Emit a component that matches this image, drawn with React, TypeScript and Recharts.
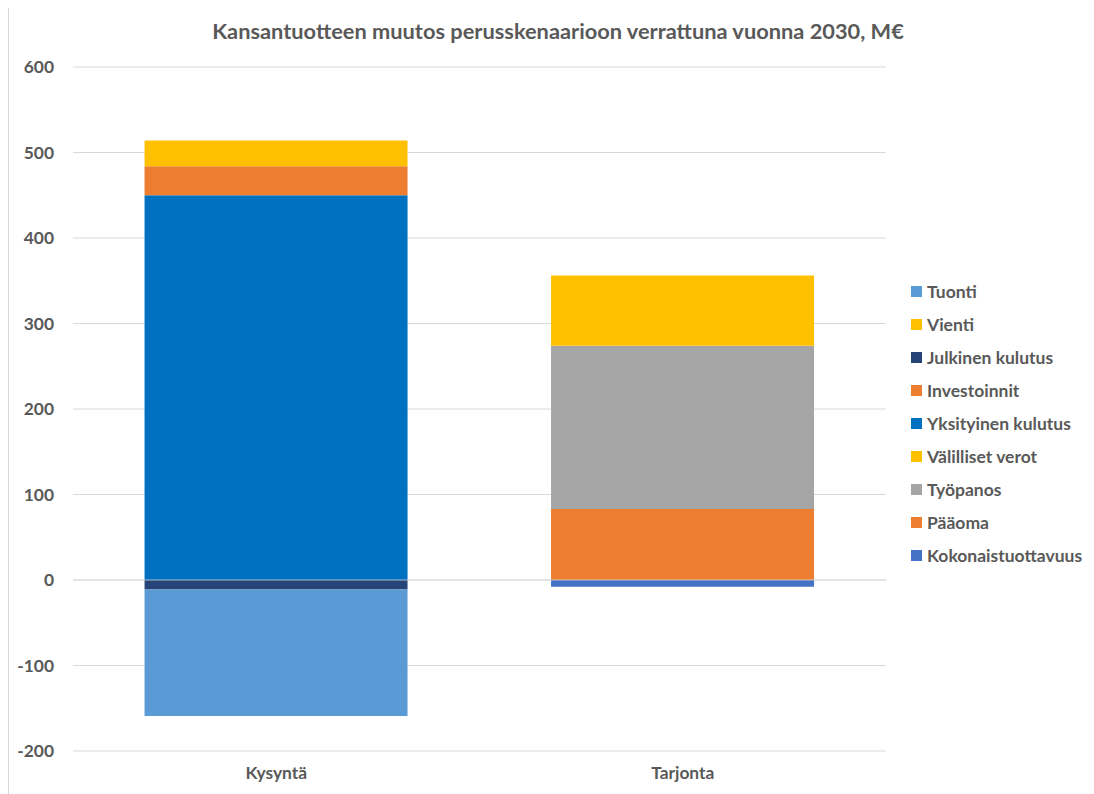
import React from 'react'
import { BarChart, Bar, XAxis, YAxis, CartesianGrid, Legend, ReferenceLine } from 'recharts'

// Kategoriat ja sarjat (M€), luettu kuvasta
const categories = ['Kysyntä', 'Tarjonta']
const kokonaistuottavuus = [null, -8]
const paaoma = [null, 83]
const tyopanos = [null, 191]
const valillisetVerot = [null, 82]
const yksityinenKulutus = [450, null]
const investoinnit = [34, null]
const julkinenKulutus = [-11, null]
const vienti = [30, null]
const tuonti = [-148, null]
const yTicks = [-200, -100, 0, 100, 200, 300, 400, 500, 600]

// Excel-järjestys: legenda näytetään käänteisenä
const series = [
  { key: 'kokonaistuottavuus', name: 'Kokonaistuottavuus', values: kokonaistuottavuus, color: '#4472C4' },
  { key: 'paaoma', name: 'Pääoma', values: paaoma, color: '#ED7D31' },
  { key: 'tyopanos', name: 'Työpanos', values: tyopanos, color: '#A5A5A5' },
  { key: 'valillisetVerot', name: 'Välilliset verot', values: valillisetVerot, color: '#FFC000' },
  { key: 'yksityinenKulutus', name: 'Yksityinen kulutus', values: yksityinenKulutus, color: '#0070C0' },
  { key: 'investoinnit', name: 'Investoinnit', values: investoinnit, color: '#ED7D31' },
  { key: 'julkinenKulutus', name: 'Julkinen kulutus', values: julkinenKulutus, color: '#264478' },
  { key: 'vienti', name: 'Vienti', values: vienti, color: '#FFC000' },
  { key: 'tuonti', name: 'Tuonti', values: tuonti, color: '#5B9BD5' },
]

const data = categories.map((name, i) => {
  const row: Record<string, string | number | null> = { name }
  series.forEach((s) => {
    row[s.key] = s.values[i]
  })
  return row
})

const FONT = 'Lato, "Open Sans", sans-serif'
const TEXT = '#595959'

// recharts lajittelee payloadin omalla tavallaan, joten järjestys otetaan sarjoista
const renderLegend = () => {
  const items = [...series].reverse()
  return (
    <div style={{ width: 200, paddingLeft: 25, boxSizing: 'border-box', fontFamily: FONT }}>
      {items.map((item) => (
        <div
          key={item.key}
          style={{ height: 33, display: 'flex', alignItems: 'center', whiteSpace: 'nowrap' }}
        >
          <span
            style={{
              width: 11,
              height: 11,
              flexShrink: 0,
              background: item.color,
              display: 'inline-block',
              marginRight: 5,
            }}
          />
          <span style={{ fontSize: 17.5, fontWeight: 700, color: TEXT }}>{item.name}</span>
        </div>
      ))}
    </div>
  )
}

export default function App() {
  return (
    <div
      style={{
        position: 'relative',
        marginTop: -4,
        width: 1100,
        height: 800,
        border: '1px solid #d9d9d9',
        background: '#fff',
        fontFamily: FONT,
      }}
    >
      <div
        style={{
          position: 'absolute',
          top: 13,
          left: 4,
          width: 1090,
          textAlign: 'center',
          fontSize: 21.8,
          fontWeight: 700,
          color: TEXT,
          lineHeight: '26px',
        }}
      >
        Kansantuotteen muutos perusskenaarioon verrattuna vuonna 2030, M€
      </div>
      <BarChart
        width={1090}
        height={790}
        data={data}
        stackOffset="sign"
        barCategoryGap="17.6%"
        margin={{ top: 62, right: 13, left: 4, bottom: 14 }}
      >
        <CartesianGrid vertical={false} stroke="#d9d9d9" />
        <XAxis
          dataKey="name"
          axisLine={false}
          tickLine={false}
          height={30}
          tickMargin={10}
          tick={{ fill: TEXT, fontSize: 17.4, fontWeight: 700, fontFamily: FONT }}
        />
        <YAxis
          domain={[-200, 600]}
          ticks={yTicks}
          axisLine={false}
          tickLine={false}
          width={60}
          tickMargin={13}
          tick={{ fill: TEXT, fontSize: 17.4, fontWeight: 700, fontFamily: FONT }}
        />
        <Legend
          layout="vertical"
          align="right"
          verticalAlign="middle"
          content={renderLegend}
          wrapperStyle={{ top: 270 }}
        />
        {series.map((s) => (
          <Bar
            key={s.key}
            dataKey={s.key}
            name={s.name}
            stackId="a"
            fill={s.color}
            isAnimationActive={false}
          />
        ))}
        <ReferenceLine y={0} stroke="#d9d9d9" strokeOpacity={0.8} />
      </BarChart>
    </div>
  )
}
